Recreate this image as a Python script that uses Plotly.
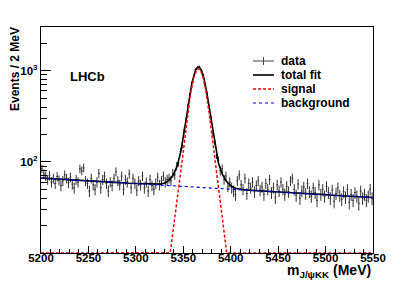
import numpy as np
import plotly.graph_objects as go

# ---------------- data ----------------
bin_width = 2.0
m_start = 5200.0
counts_left = [84, 74, 70, 64, 71, 60, 66, 58, 69, 63, 55, 62, 72, 66, 59, 68, 57, 52, 64, 60,
               84, 80, 86, 62, 58, 48, 66, 56, 50, 60, 75, 52, 64, 70, 58, 48, 60, 55, 66, 78,
               62, 56, 70, 50, 64, 60, 74, 52, 66, 58, 49, 62, 56, 70, 52, 60, 48, 64, 55, 50,
               58, 68, 56, 62, 70]
counts_peak = [60, 64, 66, 62, 75, 72, 90, 98, 130, 152, 225, 290, 420, 552, 735, 870, 1030, 1085,
               1110, 1000, 895, 710, 570, 405, 310, 205, 165, 118, 104, 80, 84, 64, 70, 54, 60, 52]
counts_right = [48, 44, 62, 72, 56, 50, 66, 45, 58, 52, 60, 47, 55, 62, 49, 53, 44, 58, 50, 64,
                46, 52, 41, 56, 48, 60, 50, 44, 54, 47, 62, 66, 50, 43, 57, 40, 48, 53, 45, 58,
                47, 42, 52, 46, 38, 56, 44, 50, 42, 54, 46, 40, 49, 37, 45, 52, 43, 39, 47, 41,
                50, 36, 44, 38, 46, 42, 35, 48, 40, 44, 38, 42, 50, 40]
counts = np.array(counts_left + counts_peak + counts_right, dtype=float)
mass = m_start + bin_width / 2 + bin_width * np.arange(len(counts))

# fit model parameters (events per 2 MeV bin)
sig_amp = 1050.0
sig_mean = 5366.0
sig_width_core = 7.0
sig_width_wide = 13.0
sig_core_frac = 0.87
bkg_start = 66.5
bkg_end = 40.6

x_tick_vals = [5200, 5250, 5300, 5350, 5400, 5450, 5500, 5550]
y_tick_vals = [100, 1000]
y_tick_text = ["10<sup>2</sup>", "10<sup>3</sup>"]

# ---------------- model curves ----------------
mf = np.linspace(5200, 5550, 1401)
slope = np.log(bkg_start / bkg_end) / 350.0
bkg = bkg_start * np.exp(-slope * (mf - 5200))
d = mf - sig_mean
sig = sig_amp * (sig_core_frac * np.exp(-d**2 / (2 * sig_width_core**2))
                 + (1 - sig_core_frac) * np.exp(-d**2 / (2 * sig_width_wide**2)))
tot = sig + bkg
ymin_log, ymax_log = 1.0, 3.48
sig_plot = np.clip(sig, 10**ymin_log, None)

fig = go.Figure()
fig.add_trace(go.Scatter(
    x=mass, y=counts, mode="markers",
    marker=dict(size=1, color="#222"),
    error_y=dict(type="data", array=np.sqrt(counts), color="#333", thickness=1, width=0),
    error_x=dict(type="data", array=np.full(len(counts), bin_width / 2), color="#555", thickness=1, width=0),
    showlegend=False))
fig.add_trace(go.Scatter(x=mf, y=tot, mode="lines", line=dict(color="black", width=1.6), showlegend=False))
fig.add_trace(go.Scatter(x=mf, y=bkg, mode="lines", line=dict(color="#0000ff", width=1.2, dash="dot"), showlegend=False))
fig.add_trace(go.Scatter(x=mf, y=sig_plot, mode="lines", line=dict(color="#ff0000", width=1.5, dash="3px,2px"), showlegend=False))

# plot area geometry
W, H = 415, 281
L, R, T, B = 41, 42, 27, 28
pw, ph = W - L - R, H - T - B

def px(xp):
    return (xp - L) / pw

def py(yp):
    return (H - B - yp) / ph

font_fam = "Liberation Sans"
shapes = []
annotations = []
legend_rows = [("data", None), ("total fit", dict(color="black", width=1.6)),
               ("signal", dict(color="#ff0000", width=1.5, dash="3px,2px")),
               ("background", dict(color="#0000ff", width=1.2, dash="dot"))]
row_y = [61, 75, 89, 103]
for (label, ln), yy in zip(legend_rows, row_y):
    if ln is None:
        shapes.append(dict(type="line", xref="paper", yref="paper", x0=px(253), x1=px(274), y0=py(yy), y1=py(yy),
                           line=dict(color="#444", width=1)))
        shapes.append(dict(type="line", xref="paper", yref="paper", x0=px(263.5), x1=px(263.5), y0=py(yy - 4), y1=py(yy + 4),
                           line=dict(color="#444", width=1)))
    else:
        shapes.append(dict(type="line", xref="paper", yref="paper", x0=px(253), x1=px(274), y0=py(yy), y1=py(yy), line=ln))
    annotations.append(dict(text="<b>%s</b>" % label, xref="paper", yref="paper", x=px(279), y=py(yy),
                            xanchor="left", yanchor="middle", showarrow=False,
                            font=dict(family=font_fam, size=12, color="black")))

annotations.append(dict(text="<b>LHCb</b>", xref="paper", yref="paper", x=px(68), y=py(76), xanchor="left",
                        yanchor="middle", showarrow=False, font=dict(family=font_fam, size=13, color="black")))
annotations.append(dict(text="<b>Events / 2 MeV</b>", xref="paper", yref="paper", x=px(15), y=py(69),
                        xanchor="center", yanchor="middle", textangle=-90, showarrow=False,
                        font=dict(family=font_fam, size=12, color="black")))
annotations.append(dict(text="<b>m<sub>J/ψKK</sub> (MeV)</b>", xref="paper", yref="paper", x=1.0, y=py(271),
                        xanchor="right", yanchor="middle", showarrow=False,
                        font=dict(family=font_fam, size=14, color="black")))

y_minor = [v * 10**e for e in (1, 2) for v in range(2, 10)] + [2000, 3000]

fig.update_layout(
    width=W, height=H, margin=dict(l=L, r=R, t=T, b=B),
    paper_bgcolor="white", plot_bgcolor="white",
    shapes=shapes, annotations=annotations, showlegend=False,
    xaxis=dict(range=[5200, 5550], showline=True, linecolor="black", linewidth=1.2, mirror=True,
               ticks="inside", ticklen=7, tickcolor="black", tickwidth=1,
               tickmode="array", tickvals=x_tick_vals, ticktext=[str(v) for v in x_tick_vals],
               tickfont=dict(family=font_fam, size=11.5, color="black", weight="bold"),
               ticklabelstandoff=-6,
               showgrid=False, zeroline=False,
               minor=dict(ticks="inside", ticklen=3.5, tickcolor="black", tickwidth=1, dtick=10, tick0=5200, showgrid=False)),
    yaxis=dict(type="log", range=[ymin_log, ymax_log], showline=True, linecolor="black", linewidth=1.2, mirror=True,
               ticks="inside", ticklen=10, tickcolor="black", tickwidth=1,
               tickmode="array", tickvals=y_tick_vals, ticktext=y_tick_text,
               tickfont=dict(family=font_fam, size=11.5, color="black", weight="bold"),
               showgrid=False, zeroline=False,
               minor=dict(ticks="inside", ticklen=6, tickcolor="black", tickwidth=1, tickmode="array",
                          tickvals=y_minor, showgrid=False)),
)

fig.write_html("out.html", config={"displayModeBar": False},
               post_script="document.body.style.margin='0';document.body.style.padding='0';")
